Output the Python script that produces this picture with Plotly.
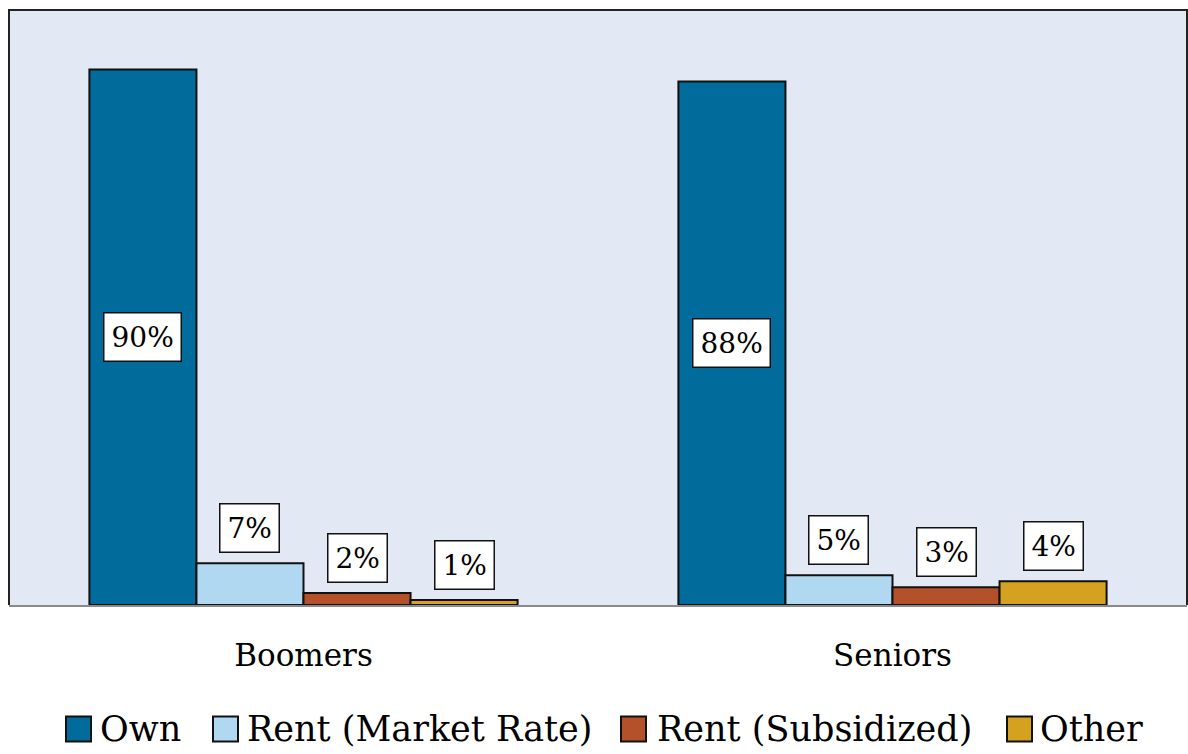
import plotly.graph_objects as go

categories = ["Boomers", "Seniors"]
series_names = ["Own", "Rent (Market Rate)", "Rent (Subsidized)", "Other"]
own = [90, 88]
rent_market = [7, 5]
rent_subsidized = [2, 3]
other = [0.85, 4]
label_texts = [["90%", "88%"], ["7%", "5%"], ["2%", "3%"], ["1%", "4%"]]
colors = ["#016C9B", "#B0D8F0", "#B5512A", "#D4A21E"]

values = [own, rent_market, rent_subsidized, other]
FONT = "DejaVu Serif"

# figure geometry (pixels); body margin is removed so page px == figure px
W, H = 1188, 754
ML, MR, MT, MB = 9, 1, 10, 149
PW, PH = W - ML - MR, H - MT - MB

fig = go.Figure()
for name, vals, col in zip(series_names, values, colors):
    fig.add_trace(go.Bar(
        x=categories, y=vals, name=name, showlegend=False,
        marker=dict(color=col, line=dict(color="#111111", width=2)),
    ))

bargap = 0.273
group_w = 1 - bargap
bar_w = group_w / 4
annotations = []
for i, (vals, texts) in enumerate(zip(values, label_texts)):
    off = -group_w / 2 + bar_w * (i + 0.5)
    for j, (v, t) in enumerate(zip(vals, texts)):
        if i == 0:
            ann = dict(x=j + off, y=v / 2, yanchor="middle")
        else:
            ann = dict(x=j + off, y=v, yanchor="bottom", yshift=10)
        ann.update(text=t, showarrow=False, xref="x", yref="y",
                   bgcolor="white", bordercolor="#111111", borderwidth=1.5,
                   borderpad=7, font=dict(family=FONT, size=28, color="black"))
        annotations.append(ann)

# manual legend (pixel layout converted to paper coordinates)
def px_x(x):
    return (x - ML) / PW

def px_y(y):
    return (H - MB - y) / PH

legend_sq_left = [66, 213, 621, 1007]
legend_txt_left = [100, 247, 657, 1040]
SQ = 25
LEG_Y = 729
shapes = [dict(type="path", xref="paper", yref="paper",
               path="M 0 0 L 0 1 L 1 1 L 1 0", line=dict(color="#222222", width=2))]
for name, col, sx, tx in zip(series_names, colors, legend_sq_left, legend_txt_left):
    shapes.append(dict(type="rect", xref="paper", yref="paper",
                       x0=px_x(sx), x1=px_x(sx + SQ),
                       y0=px_y(LEG_Y + SQ / 2), y1=px_y(LEG_Y - SQ / 2),
                       fillcolor=col, line=dict(color="#111111", width=2)))
    annotations.append(dict(text=name, xref="paper", yref="paper",
                            x=px_x(tx - 2), y=px_y(LEG_Y), xanchor="left", yanchor="middle",
                            showarrow=False, font=dict(family=FONT, size=35, color="black")))

fig.update_layout(
    width=W, height=H,
    margin=dict(l=ML, r=MR, t=MT, b=MB, autoexpand=False),
    paper_bgcolor="white", plot_bgcolor="#E2E9F4",
    barmode="group", bargap=bargap, bargroupgap=0,
    font=dict(family=FONT, size=31, color="black"),
    showlegend=False,
    annotations=annotations,
    xaxis=dict(showline=True, linecolor="#8a8a8a", linewidth=2, showgrid=False,
               ticks="", ticklabelstandoff=22, tickfont=dict(family=FONT, size=31)),
    yaxis=dict(range=[0, 100], showticklabels=False, showgrid=False, zeroline=False,
               showline=False),
    shapes=shapes,
)

fig.write_html(
    "out.html",
    config={"displayModeBar": False},
    post_script="document.body.style.margin='0';document.body.style.overflow='hidden';",
)
